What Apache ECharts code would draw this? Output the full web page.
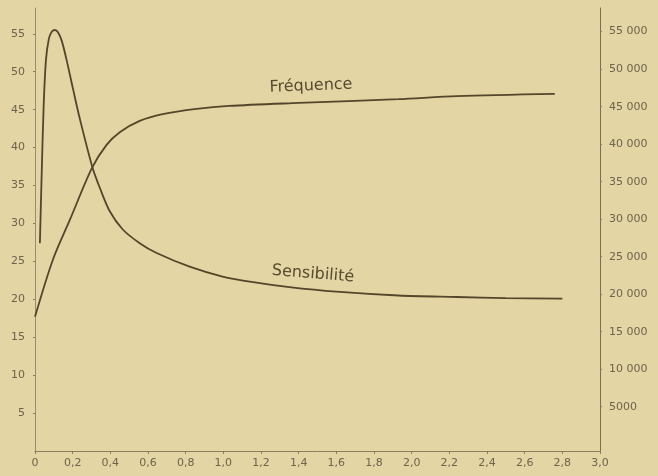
<!DOCTYPE html>
<html>
<head>
<meta charset="utf-8">
<script src="https://cdn.jsdelivr.net/npm/echarts@6/dist/echarts.min.js"></script>
<style>
  html, body { margin: 0; padding: 0; background: #e3d5a4; }
  #chart { width: 658px; height: 476px; }
</style>
</head>
<body>
<div id="chart"></div>
<script>
// Sensibilité (left scale) as [x, value] pairs
const sensibilite = [
  [0.026, 27.4], [0.036, 37.0], [0.046, 45.5], [0.058, 51.5], [0.074, 54.4],
  [0.09, 55.3], [0.106, 55.5], [0.122, 55.2], [0.143, 54.0], [0.17, 51.3],
  [0.203, 47.6], [0.238, 43.8], [0.306, 37.3], [0.344, 34.7], [0.397, 31.6],
  [0.466, 29.2], [0.556, 27.4], [0.646, 26.1], [0.821, 24.3], [0.996, 23.0],
  [1.176, 22.2], [1.351, 21.6], [1.6, 21.0], [1.93, 20.5], [2.24, 20.3],
  [2.5, 20.15], [2.80, 20.1]
];

// Fréquence (right scale) as [x, value] pairs
const frequence = [
  [0, 17000], [0.095, 24600], [0.185, 29900], [0.302, 36800], [0.38, 39900],
  [0.45, 41600], [0.556, 43100], [0.678, 44000], [0.858, 44700], [1.03, 45100],
  [1.40, 45500], [1.93, 46000], [2.24, 46400], [2.76, 46700]
];

// Tick values
const leftTicks = [5, 10, 15, 20, 25, 30, 35, 40, 45, 50, 55];
const rightTicks = [5000, 10000, 15000, 20000, 25000, 30000, 35000, 40000, 45000, 50000, 55000];

const labelColor = '#6e634c';
const curveColor = '#54462a';
const font = 'DejaVu Sans';

const chart = echarts.init(document.getElementById('chart'), null, { renderer: 'canvas' });

chart.setOption({
  backgroundColor: '#e3d5a4',
  animation: false,
  grid: { left: 35, right: 58, top: 8, bottom: 25, containLabel: false },
  xAxis: {
    type: 'value',
    min: 0, max: 3, interval: 0.2,
    axisLine: { onZero: false, lineStyle: { color: '#8c7f5e', width: 1 } },
    axisTick: { show: true, length: 3, lineStyle: { color: '#8c7f5e' } },
    splitLine: { show: false },
    axisLabel: {
      margin: 7, fontSize: 11, fontFamily: font, color: labelColor,
      formatter: v => v === 0 ? '0' : v.toFixed(1).replace('.', ',')
    }
  },
  yAxis: [
    {
      type: 'value',
      min: 0, max: 58.4,
      axisLine: { show: true, onZero: false, lineStyle: { color: '#9a8d6c', width: 1 } },
      axisTick: { show: true, length: 2, customValues: leftTicks, lineStyle: { color: '#8c7f5e' } },
      splitLine: { show: false },
      axisLabel: {
        customValues: leftTicks, margin: 10, fontSize: 11, fontFamily: font, color: labelColor
      }
    },
    {
      type: 'value',
      position: 'right',
      min: -900, max: 58150,
      axisLine: { show: true, onZero: false, lineStyle: { color: '#7d704f', width: 1 } },
      axisTick: { show: true, length: 2, customValues: rightTicks, lineStyle: { color: '#8c7f5e' } },
      splitLine: { show: false },
      axisLabel: {
        customValues: rightTicks, margin: 9, fontSize: 11, fontFamily: font, color: labelColor,
        formatter: v => v >= 10000 ? (v / 1000) + ' 000' : String(v)
      }
    }
  ],
  series: [
    {
      name: 'Sensibilité',
      type: 'line',
      yAxisIndex: 0,
      data: sensibilite,
      showSymbol: false,
      smooth: 0.3,
      lineStyle: { color: curveColor, width: 1.8 }
    },
    {
      name: 'Fréquence',
      type: 'line',
      yAxisIndex: 1,
      data: frequence,
      showSymbol: false,
      smooth: 0.3,
      lineStyle: { color: curveColor, width: 1.8 }
    }
  ],
  graphic: [
    {
      type: 'text',
      x: 311, y: 86,
      rotation: 0.04,
      style: {
        text: 'Fréquence', fill: '#574a30',
        font: '16px "DejaVu Sans"', align: 'center', verticalAlign: 'middle'
      }
    },
    {
      type: 'text',
      x: 313, y: 274,
      rotation: -0.08,
      style: {
        text: 'Sensibilité', fill: '#574a30',
        font: '16px "DejaVu Sans"', align: 'center', verticalAlign: 'middle'
      }
    }
  ]
});
</script>
</body>
</html>
